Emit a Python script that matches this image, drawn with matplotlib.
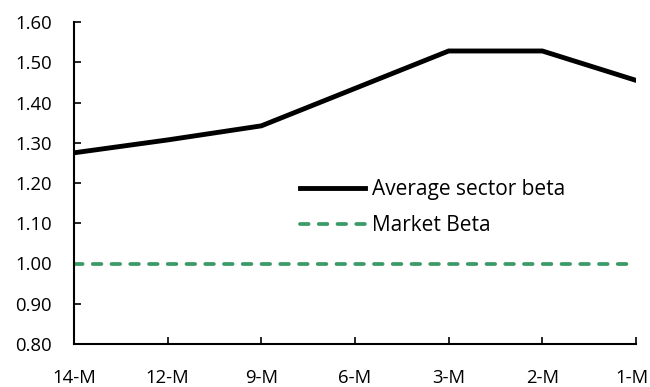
import matplotlib.pyplot as plt
import matplotlib.transforms as mtransforms

periods = ["14-M", "12-M", "9-M", "6-M", "3-M", "2-M", "1-M"]
sector_beta = [1.275, 1.307, 1.342, 1.435, 1.528, 1.528, 1.455]
market_beta = [1.00, 1.00, 1.00, 1.00, 1.00, 1.00, 1.00]
y_ticks = [0.80, 0.90, 1.00, 1.10, 1.20, 1.30, 1.40, 1.50, 1.60]

plt.rcParams['font.family'] = ['Open Sans', 'DejaVu Sans']

fig = plt.figure(figsize=(6.5, 3.87), dpi=100)
ax = fig.add_axes([74 / 650, 43 / 387, 562 / 650, 322 / 387])

x = range(len(periods))
ax.plot(x, sector_beta, color="black", linewidth=3.5,
        solid_joinstyle="miter", label="Average sector beta")
ax.plot(x, market_beta, color="#3a9a68", linewidth=2.7,
        linestyle=(0, (2.3, 2.7)), dash_capstyle="round",
        label="Market Beta")

ax.set_xlim(0, len(periods) - 1)
ax.set_ylim(0.80, 1.60)
ax.set_xticks(list(x))
ax.set_xticklabels(periods)
ax.set_yticks(y_ticks)
ax.set_yticklabels(["{:.2f}".format(v) for v in y_ticks])

for s in ["top", "right"]:
    ax.spines[s].set_visible(False)
for s in ["left", "bottom"]:
    ax.spines[s].set_linewidth(1.5)
    ax.spines[s].set_color("black")

ax.tick_params(axis="y", direction="in", length=5, width=1.2,
               pad=16, labelsize=13.3)
ax.tick_params(axis="x", direction="in", length=5, width=1.2,
               pad=18, labelsize=13.3)

# nudge the last x label so it stays inside the canvas
last = ax.get_xticklabels()[-1]
last.set_transform(last.get_transform() +
                   mtransforms.ScaledTranslation(-3 / 72, 0, fig.dpi_scale_trans))

leg = ax.legend(loc="upper left", bbox_to_anchor=(290 / 650, 1 - 169 / 387),
                bbox_transform=fig.transFigure, frameon=False,
                fontsize=15, handlelength=3.1, handletextpad=0.33,
                labelspacing=0.7, borderpad=0)

fig.savefig("out.png", dpi=100)
